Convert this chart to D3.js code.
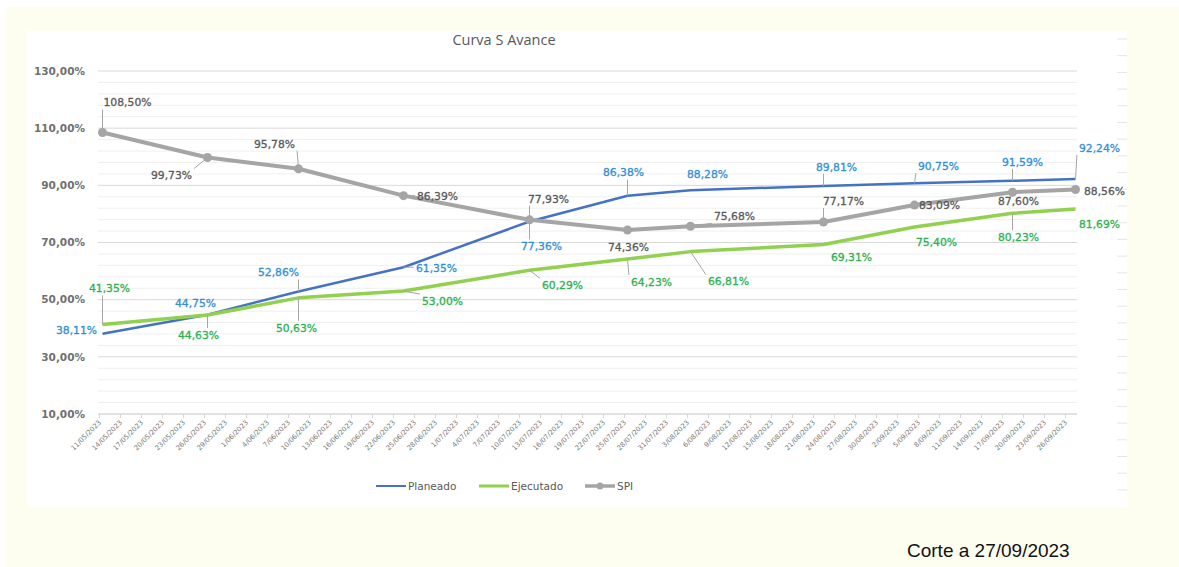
<!DOCTYPE html>
<html>
<head>
<meta charset="utf-8">
<script src="https://cdn.jsdelivr.net/npm/d3@7"></script>
<style>
  body { margin: 0; background: #fff; }
  svg { display: block; }
</style>
</head>
<body>
<script>
// fechas de corte de cada medicion
var fechas = ["11/05/2023", "26/05/2023", "08/06/2023", "23/06/2023", "11/07/2023", "25/07/2023",
  "03/08/2023", "22/08/2023", "04/09/2023", "18/09/2023", "27/09/2023"];

var planeado = [38.11, 44.75, 52.86, 61.35, 77.36, 86.38, 88.28, 89.81, 90.75, 91.59, 92.24];
var ejecutado = [41.35, 44.63, 50.63, 53.00, 60.29, 64.23, 66.81, 69.31, 75.40, 80.23, 81.69];
var spi = [108.50, 99.73, 95.78, 86.39, 77.93, 74.36, 75.68, 77.17, 83.09, 87.60, 88.56];

var yTicks = [10, 30, 50, 70, 90, 110, 130];
var ejeInicio = "11/05/2023", ejeFin = "26/09/2023";

// desplazamiento de las etiquetas respecto al punto (px)
var posPlan = [[-26,-3],[-12,-11],[-20,-19],[33,1],[12,25],[-4,-23],[17,-16],[13,-19],[24,-17],[10,-19],[24,-31]];
var posEjec = [[7,-36],[-9,20],[-2,30],[39,10],[33,15],[24,23],[38,30],[28,13],[22,15],[6,24],[24,15]];
var posSpi = [[25,-30],[-36,18],[-24,-25],[34,1],[19,-21],[1,17],[44,-10],[20,-21],[25,0],[6,9],[29,2]];

var W = 1179, H = 567;
var parse = d3.utcParse("%d/%m/%Y");
var es = d3.formatLocale({decimal: ",", thousands: ".", grouping: [3], currency: ["", "€"]});
var pct = function(v) { return es.format(".2f")(v) + "%"; };

var svg = d3.select("body").append("svg").attr("width", W).attr("height", H);

// fondo crema y area blanca del grafico
svg.append("rect").attr("x", 6).attr("y", 7).attr("width", W - 6).attr("height", H - 7).attr("fill", "#fdfdf0");
svg.append("rect").attr("x", 27).attr("y", 31).attr("width", 1100).attr("height", 476).attr("fill", "#fff");

svg.append("g").selectAll("line").data(d3.range(39, 505, 16.7)).enter().append("line")
  .attr("x1", 1117).attr("x2", 1127).attr("y1", function(d) { return d; }).attr("y2", function(d) { return d; })
  .attr("stroke", "#e6e6e6");

var x = d3.scaleUtc().domain([parse(ejeInicio), parse(ejeFin)]).range([99, 1065]);
var y = d3.scaleLinear().domain([10, 130]).range([414, 71]);
var xLeft = 98, xRight = 1077;

var px = function(i) { return x(d3.utcHour.offset(parse(fechas[i]), 12)); };

// lineas de division menores y mayores
var minor = d3.range(10, 131, 4).filter(function(v) { return (v - 10) % 20 !== 0; });
svg.append("g").selectAll("line").data(minor).enter().append("line")
  .attr("x1", xLeft).attr("x2", xRight)
  .attr("y1", function(d) { return y(d); }).attr("y2", function(d) { return y(d); })
  .attr("stroke", "#efefef").attr("stroke-width", 1);

svg.append("g").selectAll("line").data(yTicks).enter().append("line")
  .attr("x1", xLeft).attr("x2", xRight)
  .attr("y1", function(d) { return y(d); }).attr("y2", function(d) { return y(d); })
  .attr("stroke", "#d9d9d9").attr("stroke-width", 1);

svg.append("g").selectAll("text").data(yTicks).enter().append("text")
  .attr("x", 85).attr("y", function(d) { return y(d); }).attr("dy", "0.35em")
  .attr("text-anchor", "end")
  .style("font-family", "DejaVu Sans").style("font-size", "10.5px").style("font-weight", "bold")
  .attr("fill", "#707070").text(pct);

// eje x cada 3 dias
var xTicks = d3.utcDay.range(parse(ejeInicio), d3.utcDay.offset(parse(ejeFin), 1), 3);
var xAxis = d3.axisBottom(x).tickValues(xTicks).tickSize(4).tickSizeOuter(0)
  .tickFormat(d3.utcFormat("%-d/%m/%Y"));
var gx = svg.append("g").attr("transform", "translate(0," + y(10) + ")").call(xAxis);
gx.select(".domain").remove();
gx.insert("line", ":first-child").attr("x1", xLeft).attr("x2", xRight).attr("stroke", "#d9d9d9");
gx.selectAll(".tick line").attr("stroke", "#d9d9d9");
gx.selectAll(".tick text")
  .attr("text-anchor", "end").attr("dy", null).attr("y", 0)
  .attr("transform", "translate(2,9) rotate(-45)")
  .style("font-family", "DejaVu Sans").style("font-size", "6.8px").attr("fill", "#7a7a7a");

// titulo
svg.append("text").attr("x", 504).attr("y", 45).attr("text-anchor", "middle")
  .style("font-family", "Open Sans").style("font-size", "14.5px").attr("fill", "#595959")
  .text("Curva S Avance");

var series = [
  {nombre: "Planeado", valores: planeado, color: "#4472c4", ancho: 2.5, texto: "#2f8fd6", pos: posPlan, marca: false},
  {nombre: "Ejecutado", valores: ejecutado, color: "#92d050", ancho: 3.5, texto: "#2bb24c", pos: posEjec, marca: false},
  {nombre: "SPI", valores: spi, color: "#a5a5a5", ancho: 4, texto: "#595959", pos: posSpi, marca: true}
];

var line = d3.line().x(function(d, i) { return px(i); }).y(function(d) { return y(d); });

series.forEach(function(s) {
  svg.append("path").datum(s.valores).attr("d", line)
    .attr("fill", "none").attr("stroke", s.color).attr("stroke-width", s.ancho)
    .attr("stroke-linejoin", "round");
  if (s.marca) {
    svg.append("g").selectAll("circle").data(s.valores).enter().append("circle")
      .attr("cx", function(d, i) { return px(i); }).attr("cy", function(d) { return y(d); })
      .attr("r", 4.5).attr("fill", s.color);
  }
});

// etiquetas de datos con lineas guia
var gLead = svg.append("g");
series.forEach(function(s) {
  s.valores.forEach(function(v, i) {
    var x0 = px(i), y0 = y(v);
    var cx = x0 + s.pos[i][0], cy = y0 + s.pos[i][1];
    var t = svg.append("text").attr("x", cx).attr("y", cy).attr("dy", "0.35em")
      .attr("text-anchor", "middle")
      .style("font-family", "DejaVu Sans").style("font-size", "10.8px")
      .attr("fill", s.texto).attr("stroke", s.texto).attr("stroke-width", 0.3)
      .text(pct(v));
    var w = t.node().getComputedTextLength() / 2 + 2, h = 7;
    var nx = Math.max(cx - w, Math.min(x0, cx + w)), ny = Math.max(cy - h, Math.min(y0, cy + h));
    var dist = Math.hypot(nx - x0, ny - y0);
    if (dist > 10) {
      gLead.append("line").attr("x1", x0).attr("y1", y0).attr("x2", nx).attr("y2", ny)
        .attr("stroke", "#a6a6a6").attr("stroke-width", 1);
    }
  });
});

// leyenda
var legend = svg.append("g").attr("transform", "translate(0,486)");
var legX = [376, 479, 585];
series.forEach(function(s, i) {
  var g = legend.append("g").attr("transform", "translate(" + legX[i] + ",0)");
  g.append("line").attr("x1", 0).attr("x2", 30).attr("stroke", s.color).attr("stroke-width", s.ancho - 0.5);
  if (s.marca) g.append("circle").attr("cx", 15).attr("r", 3.5).attr("fill", s.color);
  g.append("text").attr("x", 32).attr("dy", "0.35em")
    .style("font-family", "DejaVu Sans").style("font-size", "10.5px").attr("fill", "#595959")
    .text(s.nombre);
});

svg.append("text").attr("x", 907).attr("y", 557)
  .style("font-family", "Liberation Sans").style("font-size", "19px").attr("fill", "#111")
  .text("Corte a 27/09/2023");
</script>
</body>
</html>
